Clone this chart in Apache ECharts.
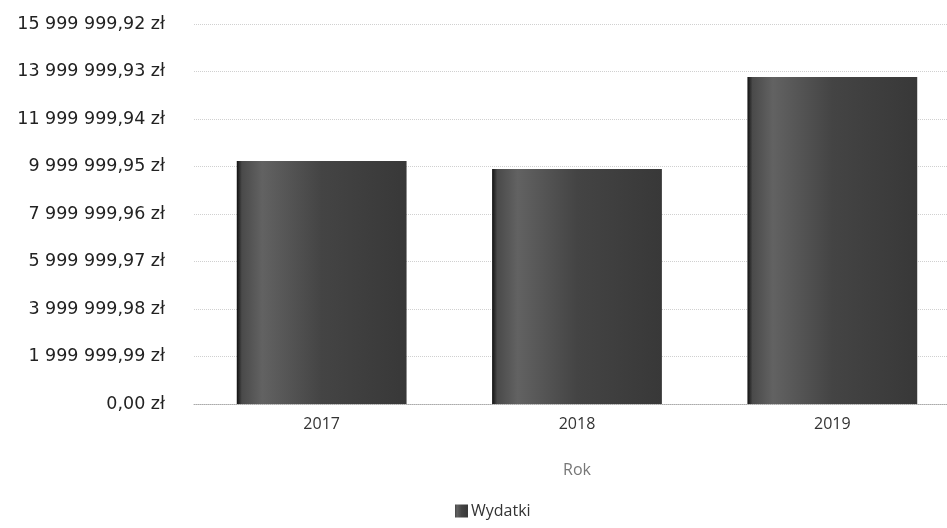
<!DOCTYPE html>
<html>
<head>
<meta charset="utf-8">
<script src="https://cdn.jsdelivr.net/npm/echarts@6/dist/echarts.min.js"></script>
<style>
  html, body { margin: 0; padding: 0; background: #fff; overflow: hidden; }
  #chart { width: 962px; height: 528px; }
</style>
</head>
<body>
<div id="chart"></div>
<script>
const years = ['2017', '2018', '2019'];
const wydatki = [10230000, 9890000, 13770000];
const yMax = 15999999.92;
const yStep = 1999999.99;

// polish money format: "9 999 999,95 zł"
function fmtZl(v) {
  const parts = v.toFixed(2).split('.');
  const int = parts[0].replace(/\B(?=(\d{3})+(?!\d))/g, ' ');
  return int + ',' + parts[1] + ' zł';
}

const chart = echarts.init(document.getElementById('chart'));
chart.setOption({
  animation: false,
  textStyle: { fontFamily: 'Open Sans' },
  grid: { left: 194, top: 24, width: 766, height: 380 },
  legend: {
    top: 498,
    left: 450,
    itemWidth: 13,
    itemHeight: 13,
    itemGap: 3,
    icon: 'rect',
    textStyle: { fontSize: 16, color: '#333', fontFamily: 'Open Sans', padding: [0, 0, 0, -2] },
    data: ['Wydatki']
  },
  xAxis: {
    type: 'category',
    data: years,
    name: 'Rok',
    nameLocation: 'middle',
    nameGap: 58,
    nameTextStyle: { fontSize: 16, color: '#777' },
    axisTick: { show: false },
    axisLine: { lineStyle: { color: '#aaa', type: 'dotted', width: 1 } },
    axisLabel: { fontSize: 16, color: '#333', margin: 12 }
  },
  yAxis: {
    type: 'value',
    min: 0,
    max: yMax,
    interval: yStep,
    axisLine: { show: false },
    axisTick: { show: false },
    splitLine: { lineStyle: { color: '#d0d0d0', type: 'dotted', width: 1 } },
    axisLabel: {
      fontSize: 17.5,
      fontFamily: 'DejaVu Sans',
      color: '#222',
      margin: 29,
      padding: [0, 0, 8, 0],
      formatter: fmtZl
    }
  },
  series: [{
    name: 'Wydatki',
    type: 'bar',
    data: wydatki,
    barWidth: '66.5%',
    itemStyle: {
      color: new echarts.graphic.LinearGradient(0, 0, 1, 0, [
        { offset: 0, color: '#111' },
        { offset: 0.03, color: '#4a4a4a' },
        { offset: 0.15, color: '#626262' },
        { offset: 0.5, color: '#444' },
        { offset: 1, color: '#383838' }
      ])
    }
  }]
});
</script>
</body>
</html>
